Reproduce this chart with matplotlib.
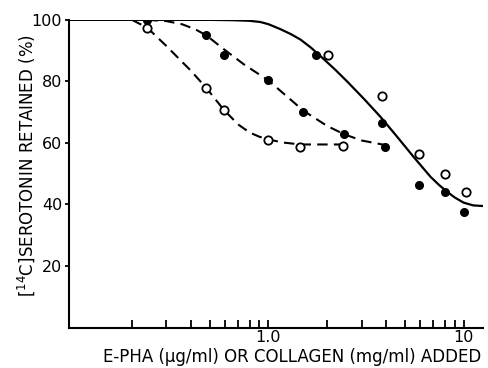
import matplotlib
matplotlib.use("Agg")
import matplotlib.pyplot as plt
from matplotlib.ticker import FixedLocator, NullLocator

# measured points (filled = closed circles, open = open circles)
epha_open_x = [0.24, 0.48, 0.59, 1.0, 1.46, 2.42]
epha_open_y = [97.4, 77.9, 70.7, 61.0, 58.7, 58.9]

epha_fill_x = [0.24, 0.48, 0.59, 1.0, 1.51, 2.45, 3.98]
epha_fill_y = [100.0, 95.1, 88.6, 80.5, 70.1, 62.9, 58.8]

coll_fill_x = [1.76, 3.8, 5.88, 8.0, 10.1]
coll_fill_y = [88.6, 66.5, 46.3, 44.0, 37.6]
coll_open_x = [2.03, 3.84, 5.88, 8.0, 10.3]
coll_open_y = [88.6, 75.3, 56.4, 49.8, 43.9]

# hand drawn curves
curve_open_x = [0.20, 0.24, 0.30, 0.40, 0.48, 0.59, 0.70, 0.80, 0.90, 1.0, 1.2, 1.46, 2.42]
curve_open_y = [100.0, 97.4, 91.5, 83.5, 77.9, 70.8, 66.0, 63.4, 62.0, 61.1, 60.1, 59.5, 59.5]

curve_fill_x = [0.24, 0.30, 0.36, 0.42, 0.48, 0.59, 0.75, 1.0, 1.25, 1.51, 2.0, 2.45, 3.0, 3.98]
curve_fill_y = [100.0, 99.6, 98.6, 97.0, 95.0, 90.5, 85.5, 80.3, 75.0, 70.5, 65.5, 62.8, 60.8, 59.3]

curve_solid_x = [0.095, 0.5, 0.65, 0.8, 0.91, 1.0, 1.15, 1.3, 1.46, 1.65, 1.85, 2.2, 2.53, 3.1,
                 3.75, 4.5, 5.54, 6.77, 7.5, 8.25, 9.0, 10.0, 11.2, 12.5]
curve_solid_y = [100.0, 100.0, 99.9, 99.7, 99.3, 98.6, 97.0, 95.4, 93.6, 91.0, 88.2, 83.8, 80.0, 74.2,
                 68.5, 62.5, 55.5, 49.0, 46.3, 44.1, 42.3, 40.6, 39.7, 39.5]

xticks = [0.2, 0.3, 0.4, 0.5, 0.6, 0.7, 0.8, 0.9, 1, 2, 3, 4, 5, 6, 7, 8, 9, 10]
xtick_labels = {1: "1.0", 10: "10"}
yticks = [20, 40, 60, 80, 100]

plt.rcParams['font.family'] = ['DejaVu Sans']

fig = plt.figure(figsize=(4.89, 3.68), dpi=100)
ax = fig.add_axes([0.141, 0.110, 0.847, 0.836])

dash = (5, 3)
ax.plot(curve_solid_x, curve_solid_y, color='black', lw=1.6)
ax.plot(curve_open_x, curve_open_y, color='black', lw=1.5, dashes=dash)
ax.plot(curve_fill_x, curve_fill_y, color='black', lw=1.5, dashes=dash)

ax.plot(epha_fill_x, epha_fill_y, 'o', ms=5.5, mfc='black', mec='black', zorder=3)
ax.plot(coll_fill_x, coll_fill_y, 'o', ms=5.5, mfc='black', mec='black', zorder=3)
ax.plot(epha_open_x, epha_open_y, 'o', ms=6, mfc='white', mec='black', mew=1.3, zorder=3)
ax.plot(coll_open_x, coll_open_y, 'o', ms=6, mfc='white', mec='black', mew=1.3, zorder=3)

ax.set_xscale('log')
ax.set_xlim(0.095, 12.6)
ax.set_ylim(0, 100)
ax.xaxis.set_major_locator(FixedLocator(xticks))
ax.xaxis.set_minor_locator(NullLocator())
ax.set_xticklabels([xtick_labels.get(t, "") for t in xticks])
ax.set_yticks(yticks)
ax.set_yticklabels([str(t) for t in yticks])

ax.spines['top'].set_visible(False)
ax.spines['right'].set_visible(False)
ax.spines['left'].set_linewidth(1.5)
ax.spines['bottom'].set_linewidth(1.5)
ax.tick_params(axis='x', which='major', direction='in', length=6, width=1.3, labelsize=11.5, pad=2)
ax.tick_params(axis='y', direction='out', length=3, width=1.3, labelsize=11.5, pad=2)

fig.text(0.598, 0.03, "E-PHA (\u03bcg/ml) OR COLLAGEN (mg/ml) ADDED",
         ha='center', va='center', fontsize=12)
fig.text(0.053, 0.55, r"[$^{14}$C]SEROTONIN RETAINED (%)", rotation=90,
         ha='center', va='center', fontsize=12)

fig.savefig("out.png", dpi=100)
